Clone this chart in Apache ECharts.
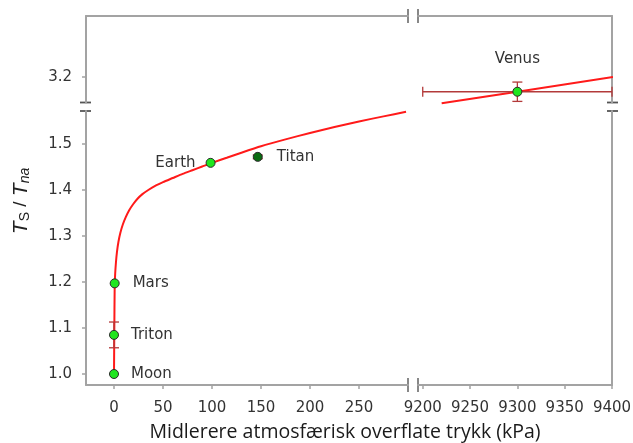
<!DOCTYPE html>
<html><head><meta charset="utf-8">
<script src="https://cdn.jsdelivr.net/npm/echarts@6/dist/echarts.min.js"></script>
<style>html,body{margin:0;padding:0;background:#fff}#c{width:633px;height:443px}</style>
</head><body><div id="c"></div>
<script>
// ---- data ----
const bodies = ['Moon', 'Triton', 'Mars', 'Earth', 'Titan'];
const pressure = [0, 0, 0.69, 98.55, 146.7];
const ratio = [1.0, 1.085, 1.197, 1.459, 1.472];
const ratioErr = [0, 0.028, 0, 0, 0.004];
const venusName = ['Venus'];
const venusPressure = [9300];
const venusRatio = [3.168];
const venusPressureErr = [100];
const venusRatioErr = [0.021];
const fitLowP = [0, 0.3, 0.7, 1.2, 2, 3, 4.5, 6.5, 9, 12, 15.5, 19.5, 24, 29, 35, 42, 50, 60, 70, 80, 90, 100, 115, 130, 150, 175, 200, 225, 250, 275, 298];
const fitLowR = [1.0, 1.09, 1.19, 1.218, 1.243, 1.265, 1.287, 1.307, 1.325, 1.341, 1.356, 1.369, 1.381, 1.391, 1.4, 1.409, 1.417, 1.426, 1.435, 1.443, 1.451, 1.459, 1.47, 1.481, 1.495, 1.51, 1.524, 1.537, 1.549, 1.56, 1.57];
const fitHighP = [9220, 9300, 9401];
const fitHighR = [3.143, 3.168, 3.2];
const xTicksLow = [0, 50, 100, 150, 200, 250];
const xTicksHigh = [9200, 9250, 9300, 9350, 9400];
const yTicksLow = [1.0, 1.1, 1.2, 1.3, 1.4, 1.5];
const yTicksHigh = [3.2];
const xTitle = 'Midlerere atmosfærisk overflate trykk (kPa)';

// ---- layout ----
const L = {x0: 86, x1: 408, x2: 418, x3: 612, yTop: 16, yMidA: 102.5, yMidB: 111, yBot: 385};
const AX = '#a3a3a3';
const FONT = 'DejaVu Sans';
const lineStyle = {color: AX, width: 2};

function axisBase(pos, showLine, ticks, labelFmt, margin) {
  const o = {
    type: 'value', position: pos, scale: true,
    axisLine: {show: showLine, onZero: false, lineStyle: lineStyle},
    splitLine: {show: false},
    axisTick: {show: !!ticks, length: 4, lineStyle: {color: AX, width: 1.5}},
    axisLabel: {show: !!ticks, color: '#333', fontSize: 15, fontFamily: FONT, margin: margin || 8, hideOverlap: false}
  };
  if (ticks) {
    o.axisTick.customValues = ticks;
    o.axisLabel.customValues = ticks;
    o.axisLabel.formatter = labelFmt || (v => String(v));
  }
  return o;
}

const grids = [
  {left: L.x0, top: L.yMidB, width: L.x1 - L.x0, height: L.yBot - L.yMidB},   // lower-left
  {left: L.x2, top: L.yMidB, width: L.x3 - L.x2, height: L.yBot - L.yMidB},   // lower-right
  {left: L.x0, top: L.yTop, width: L.x1 - L.x0, height: L.yMidA - L.yTop},    // upper-left
  {left: L.x2, top: L.yTop, width: L.x3 - L.x2, height: L.yMidA - L.yTop}     // upper-right
].map(g => Object.assign(g, {outerBoundsMode: 'none', containLabel: false}));
const xLowMin = -28.57, xLowMax = 300, xHighMin = 9195, xHighMax = 9400;
const yLowMin = 0.97609, yLowMax = 1.5717, yHighMin = 3.1446, yHighMax = 3.3326;

const xAxes = [
  Object.assign(axisBase('bottom', true, xTicksLow, null, 16), {gridIndex: 0, min: xLowMin, max: xLowMax}),
  Object.assign(axisBase('bottom', true, xTicksHigh, null, 16), {gridIndex: 1, min: xHighMin, max: xHighMax}),
  Object.assign(axisBase('top', true, null), {gridIndex: 2, min: xLowMin, max: xLowMax}),
  Object.assign(axisBase('top', true, null), {gridIndex: 3, min: xHighMin, max: xHighMax})
];
const yAxes = [
  Object.assign(axisBase('left', true, yTicksLow, v => v.toFixed(1), 14), {gridIndex: 0, min: yLowMin, max: yLowMax}),
  Object.assign(axisBase('right', true, null), {gridIndex: 1, min: yLowMin, max: yLowMax}),
  Object.assign(axisBase('left', true, yTicksHigh, v => v.toFixed(1), 14), {gridIndex: 2, min: yHighMin, max: yHighMax}),
  Object.assign(axisBase('right', true, null), {gridIndex: 3, min: yHighMin, max: yHighMax})
];

function errRender(params, api) {
  const x = api.value(0), y = api.value(1), ex = api.value(2), ey = api.value(3);
  const cap = 5;
  const st = {stroke: '#b33a3a', lineWidth: 1.3};
  const ch = [];
  const ln = (a, b, c, d) => ({type: 'line', shape: {x1: a, y1: b, x2: c, y2: d}, style: st});
  if (ey > 0) {
    const t = api.coord([x, y + ey]), b = api.coord([x, y - ey]);
    ch.push(ln(t[0], t[1], b[0], b[1]), ln(t[0] - cap, t[1], t[0] + cap, t[1]), ln(b[0] - cap, b[1], b[0] + cap, b[1]));
  }
  if (ex > 0) {
    const l = api.coord([x - ex, y]), r = api.coord([x + ex, y]);
    ch.push(ln(l[0], l[1], r[0], r[1]), ln(l[0], l[1] - cap, l[0], l[1] + cap), ln(r[0], r[1] - cap, r[0], r[1] + cap));
  }
  return {type: 'group', children: ch};
}

const labelSide = {Earth: 'left', Venus: 'top'};
const labelDist = {Earth: 10, Titan: 14, Venus: 20, Mars: 13};
const markerColor = {Titan: '#0b6b12'};

const lowPoints = bodies.map((n, i) => ({
  name: n, value: [pressure[i], ratio[i]],
  itemStyle: {color: markerColor[n] || '#1fe61f'},
  label: {position: labelSide[n] || 'right', distance: labelDist[n] || 12}
}));
const highPoints = venusName.map((n, i) => ({
  name: n, value: [venusPressure[i], venusRatio[i]],
  label: {position: labelSide[n] || 'right', distance: labelDist[n] || 12}
}));

const pointLabel = {show: true, formatter: p => p.name, color: '#333', fontSize: 15, fontFamily: FONT};

const option = {
  animation: false,
  backgroundColor: '#fff',
  grid: grids,
  xAxis: xAxes,
  yAxis: yAxes,
  series: [
    {type: 'line', xAxisIndex: 0, yAxisIndex: 0, data: fitLowP.map((p, i) => [p, fitLowR[i]]),
     smooth: 0.2, showSymbol: false, lineStyle: {color: '#ff1a1a', width: 2}, z: 2, silent: true},
    {type: 'line', xAxisIndex: 3, yAxisIndex: 3, data: fitHighP.map((p, i) => [p, fitHighR[i]]),
     showSymbol: false, clip: false, lineStyle: {color: '#ff1a1a', width: 2}, z: 2, silent: true},
    {type: 'custom', xAxisIndex: 0, yAxisIndex: 0, renderItem: errRender, z: 3,
     data: bodies.map((n, i) => [pressure[i], ratio[i], 0, ratioErr[i]]).filter(d => d[3] > 0)},
    {type: 'custom', xAxisIndex: 3, yAxisIndex: 3, renderItem: errRender, z: 3,
     data: venusName.map((n, i) => [venusPressure[i], venusRatio[i], venusPressureErr[i], venusRatioErr[i]])},
    {type: 'scatter', xAxisIndex: 0, yAxisIndex: 0, data: lowPoints, symbolSize: 9, z: 4,
     itemStyle: {borderColor: '#2a2a2a', borderWidth: 1, opacity: 1}, label: pointLabel},
    {type: 'scatter', xAxisIndex: 3, yAxisIndex: 3, data: highPoints, symbolSize: 9, z: 4,
     itemStyle: {color: '#1fe61f', borderColor: '#2a2a2a', borderWidth: 1, opacity: 1}, label: pointLabel}
  ],
  graphic: [
    // axis-break marks
    {type: 'line', shape: {x1: L.x1, y1: L.yTop - 7, x2: L.x1, y2: L.yTop + 7}, style: {stroke: '#888', lineWidth: 2}},
    {type: 'line', shape: {x1: L.x2, y1: L.yTop - 7, x2: L.x2, y2: L.yTop + 7}, style: {stroke: '#888', lineWidth: 2}},
    {type: 'line', shape: {x1: L.x1, y1: L.yBot - 7, x2: L.x1, y2: L.yBot + 7}, style: {stroke: '#888', lineWidth: 2}},
    {type: 'line', shape: {x1: L.x2, y1: L.yBot - 7, x2: L.x2, y2: L.yBot + 7}, style: {stroke: '#888', lineWidth: 2}},
    {type: 'line', shape: {x1: L.x0 - 6, y1: L.yMidA, x2: L.x0 + 5, y2: L.yMidA}, style: {stroke: '#555', lineWidth: 1.8}},
    {type: 'line', shape: {x1: L.x0 - 6, y1: L.yMidB, x2: L.x0 + 5, y2: L.yMidB}, style: {stroke: '#555', lineWidth: 1.8}},
    {type: 'line', shape: {x1: L.x3 - 5, y1: L.yMidA, x2: L.x3 + 6, y2: L.yMidA}, style: {stroke: '#555', lineWidth: 1.8}},
    {type: 'line', shape: {x1: L.x3 - 5, y1: L.yMidB, x2: L.x3 + 6, y2: L.yMidB}, style: {stroke: '#555', lineWidth: 1.8}},
    // axis titles
    {type: 'text', x: 345, y: 432, style: {text: xTitle, fontSize: 19.5, fontFamily: 'Open Sans', fill: '#1a1a1a', align: 'center', verticalAlign: 'middle'}},
    {type: 'text', x: 21, y: 201, rotation: Math.PI / 2,
     style: {text: '{t|T}{s|S}{m| / }{t|T}{n|na}', align: 'center', verticalAlign: 'middle', fill: '#222',
       rich: {
         t: {fontSize: 21, fontStyle: 'italic', fontFamily: 'Liberation Sans', fill: '#222'},
         m: {fontSize: 19, fontFamily: 'Liberation Sans', fill: '#222'},
         s: {fontSize: 14, fontFamily: 'Liberation Sans', fill: '#222', verticalAlign: 'bottom', padding: [9, 0, 0, 0]},
         n: {fontSize: 14, fontStyle: 'italic', fontFamily: 'Liberation Sans', fill: '#222', verticalAlign: 'bottom', padding: [9, 0, 0, 0]}
       }}}
  ]
};
const chart = echarts.init(document.getElementById('c'), null, {renderer: 'canvas'});
chart.setOption(option);
</script>
</body></html>
